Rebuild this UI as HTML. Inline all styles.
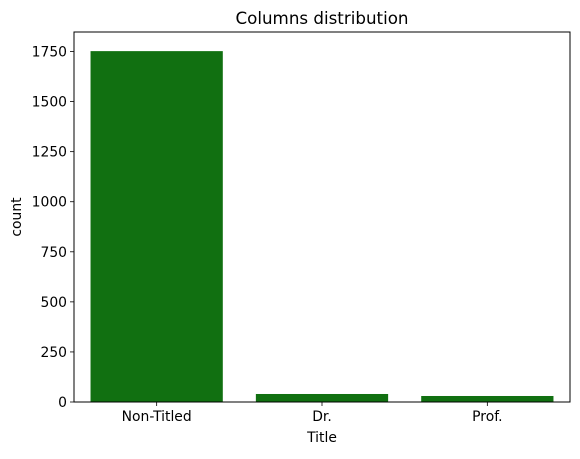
<!DOCTYPE html>
<html><head><meta charset="utf-8"><style>
body{margin:0;background:#fff;font-family:"DejaVu Sans","Liberation Sans",sans-serif;}
</style></head><body>
<svg width="580" height="455" xmlns="http://www.w3.org/2000/svg">
<g id="plot"></g>
</svg>
<script>
const categories=["Non-Titled","Dr.","Prof."];
const counts=[1752,40,30];
const yTicks=[0,250,500,750,1000,1250,1500,1750];
const L=74,R=570,T=32,B=402,yMax=1847.5;
const svg=document.getElementById('plot');
const ns="http://www.w3.org/2000/svg";
const y=v=>B-(v/yMax)*(B-T);
const bw=(R-L)/categories.length;
const x=i=>L+bw*(i+0.5);
function mk(tag,attrs,txt){const e=document.createElementNS(ns,tag);for(const k in attrs)e.setAttribute(k,attrs[k]);if(txt!==undefined)e.textContent=txt;svg.appendChild(e);return e;}
counts.forEach((c,i)=>{
 const r=mk('rect',{x:x(i)-bw*0.4,y:y(c),width:bw*0.8,height:B-y(c),fill:'#117011'});
 
 
 mk('line',{x1:x(i),x2:x(i),y1:B,y2:B+4,stroke:'#000','stroke-width':0.8});
 const t=mk('text',{x:x(i),y:B+19,'text-anchor':'middle','font-size':13.9},categories[i]);
 
 
});
yTicks.forEach(v=>{
 mk('line',{x1:L-4,x2:L,y1:y(v),y2:y(v),stroke:'#000','stroke-width':0.8});
 const t=mk('text',{x:L-7,y:y(v)+5,'text-anchor':'end','font-size':13.9},v);
 
 
});
const fr=mk('rect',{x:L,y:T,width:R-L,height:B-T,fill:'none',stroke:'#000','stroke-width':1});


const tt=mk('text',{x:(L+R)/2,y:T-8,'text-anchor':'middle','font-size':16.7},'Columns distribution');


const xt=mk('text',{x:(L+R)/2,y:B+40,'text-anchor':'middle','font-size':13.9},'Title');


const yt=mk('text',{x:21,y:(T+B)/2,'text-anchor':'middle','font-size':13.9,transform:`rotate(-90 21 ${(T+B)/2})`},'count');


</script>
</body></html>
